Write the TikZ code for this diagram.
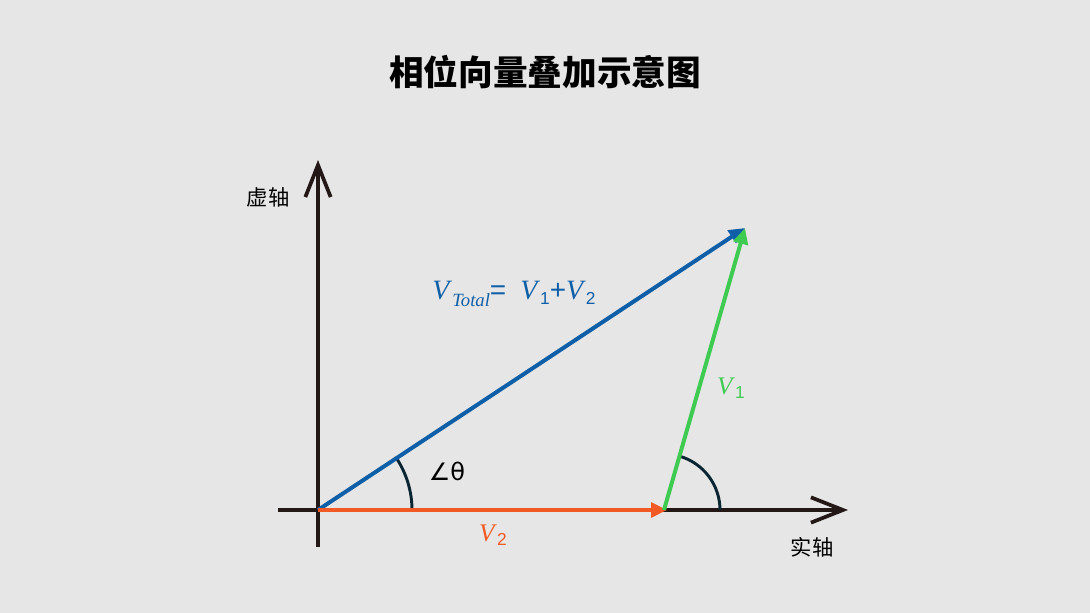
\documentclass[tikz,border=0pt]{standalone}
\usepackage{fontspec}
\setmainfont{Liberation Serif}
\newfontfamily\cjk{Noto Sans CJK SC}
\newfontfamily\symfont{DejaVu Sans}
\newfontfamily\sansfont{Liberation Sans}
\usetikzlibrary{arrows.meta,calc,positioning}

\definecolor{bgcol}{HTML}{E6E6E6}
\definecolor{axiscol}{HTML}{231815}
\definecolor{totalcol}{HTML}{0F5FA8}
\definecolor{vonecol}{HTML}{3FCB52}
\definecolor{vtwocol}{HTML}{F15A24}
\definecolor{arccol}{HTML}{0B2633}

\tikzset{
  axis/.style={draw=axiscol, line width=2.8pt, -{Straight Barb[length=24pt,width=19pt]}},
  vec/.style={line width=3pt, -{Triangle[length=12pt,width=11pt]}},
  anglearc/.style={draw=arccol, line width=2.2pt},
  axislabel/.style={font=\cjk\fontsize{16}{18}\selectfont, text=black},
  veclabel/.style={font=\fontsize{19}{22}\selectfont},
}
\newcommand{\subdigit}[1]{\raisebox{-0.35ex}{\sansfont\fontsize{13}{15}\selectfont #1}}

\begin{document}
\begin{tikzpicture}[x=0.75pt,y=0.75pt]
% background
\fill[bgcol] (0,0) rectangle (1090,613);
\useasboundingbox (0,0) rectangle (1090,613);
% points
\coordinate (O) at (318,103);
\coordinate (G) at (664,103);
\coordinate (Q) at (667,103);
\coordinate (P) at (745,385);
% title
\node[font=\cjk\bfseries\fontsize{26}{30}\selectfont] (title) at (545,541) {相位向量叠加示意图};
% axes
\draw[axis] (318,66) -- (318,453) coordinate (ytip);
\draw[axis] (278,103) -- (848,103) coordinate (xtip);
\node[axislabel] (ylab) at (268,416) {虚轴};
\node[axislabel] (xlab) at (812,66) {实轴};
% angle arcs
\draw[anglearc] ($(O)+(94,0)$) arc[start angle=0, end angle=33.44, radius=94];
\draw[anglearc] ($(G)+(56,0)$) arc[start angle=0, end angle=73.97, radius=56];
% vectors
\draw[vec, totalcol] (O) -- (P);
\draw[vec, vtwocol] (O) -- (Q);
\draw[vec, vonecol] (G) -- (P);
% labels
\node[veclabel, font=\fontsize{21}{24}\selectfont, text=totalcol] (vtotal) at (514,319)
  {\textit{V}\raisebox{-0.5ex}{\fontsize{14}{16}\selectfont\textit{Total}}{\sansfont=}\ \ \textit{V}\subdigit{1}{\sansfont+}\textit{V}\subdigit{2}};
\node[font=\symfont\fontsize{18}{20}\selectfont] (theta) at (447,142) {∠θ};
\node[veclabel, text=vtwocol] (vtwo) at (493,78) {\textit{V}\subdigit{2}};
\node[veclabel, text=vonecol] (vone) at (731,225) {\textit{V}\subdigit{1}};
\end{tikzpicture}
\end{document}
